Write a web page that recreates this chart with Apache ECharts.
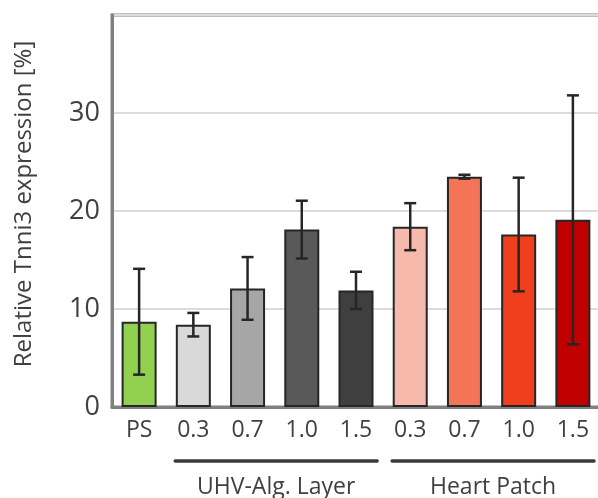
<!DOCTYPE html>
<html>
<head>
<meta charset="utf-8">
<script src="https://cdn.jsdelivr.net/npm/echarts@6/dist/echarts.min.js"></script>
<style>
  html, body { margin: 0; padding: 0; background: #ffffff; }
  #chart { width: 598px; height: 498px; }
</style>
</head>
<body>
<div id="chart"></div>
<script>
// Relative Tnni3 expression per sample (mean and standard deviation, %)
const categories = ['PS', '0.3', '0.7', '1.0', '1.5', '0.3', '0.7', '1.0', '1.5'];
const means      = [8.7, 8.4, 12.1, 18.1, 11.9, 18.4, 23.5, 17.6, 19.1];
const errors     = [5.4, 1.2, 3.2, 2.95, 1.9, 2.4, 0.2, 5.8, 12.7];
const barColors  = ['#92d050', '#d9d9d9', '#a6a6a6', '#595959', '#3f3f3f',
                    '#f8b9ad', '#f37457', '#f03f1c', '#c00000'];
const yTicks     = [0, 10, 20, 30, 40];
// Sample groups below the category axis: [label, first index, last index]
const groups     = [['UHV-Alg. Layer', 1, 4], ['Heart Patch', 5, 8]];

const FONT = '"Open Sans", "DejaVu Sans", sans-serif';
const TEXT = '#404040';

const chart = echarts.init(document.getElementById('chart'), null, { renderer: 'canvas' });

const option = {
  animation: false,
  backgroundColor: '#ffffff',
  grid: {
    left: 112, right: -2, top: 15, bottom: 91,
    outerBoundsMode: 'none',
    show: true, borderColor: '#808080', borderWidth: 3
  },
  xAxis: {
    type: 'category',
    data: categories,
    axisLine: { show: true, lineStyle: { color: '#808080', width: 3 } },
    axisTick: { show: false },
    axisLabel: { color: TEXT, fontFamily: FONT, fontSize: 23, margin: 12 },
    splitLine: { show: false }
  },
  yAxis: {
    type: 'value',
    min: yTicks[0], max: yTicks[yTicks.length - 1], interval: 10,
    name: 'Relative Tnni3 expression [%]',
    nameLocation: 'middle',
    nameGap: 76,
    nameRotate: 90,
    nameTextStyle: { color: TEXT, fontFamily: FONT, fontSize: 24, padding: [0, 0, 0, 14] },
    axisLine: { show: true, lineStyle: { color: '#808080', width: 3 } },
    axisTick: { show: false },
    axisLabel: {
      color: TEXT, fontFamily: FONT, fontSize: 27, margin: 12,
      formatter: v => (v === yTicks[yTicks.length - 1] ? '' : String(v))
    },
    splitLine: { show: true, lineStyle: { color: '#dcdcdc', width: 2 } }
  },
  series: [
    {
      type: 'bar',
      barWidth: 35,
      data: means.map((v, i) => ({
        value: v,
        itemStyle: { color: barColors[i], borderColor: '#262626', borderWidth: 2 }
      })),
      z: 2
    },
    {
      // error bars: vertical whisker with caps at mean ± sd
      type: 'custom',
      data: means.map((v, i) => [i, v - errors[i], v + errors[i]]),
      encode: { x: 0, y: [1, 2] },
      z: 3,
      renderItem: (params, api) => {
        const lo = api.coord([api.value(0), api.value(1)]);
        const hi = api.coord([api.value(0), api.value(2)]);
        const cap = 6;
        const style = { stroke: '#262626', lineWidth: 2.5, fill: null };
        return {
          type: 'group',
          children: [
            { type: 'line', shape: { x1: hi[0], y1: hi[1], x2: lo[0], y2: lo[1] }, style },
            { type: 'line', shape: { x1: hi[0] - cap, y1: hi[1], x2: hi[0] + cap, y2: hi[1] }, style },
            { type: 'line', shape: { x1: lo[0] - cap, y1: lo[1], x2: lo[0] + cap, y2: lo[1] }, style }
          ]
        };
      }
    }
  ]
};

chart.setOption(option);

// Group brackets and their titles, placed from the category axis scale
const zeroY = chart.convertToPixel({ yAxisIndex: 0 }, 0);
const bandW = chart.convertToPixel({ xAxisIndex: 0 }, 1) - chart.convertToPixel({ xAxisIndex: 0 }, 0);
const graphics = [];
groups.forEach(([label, a, b]) => {
  const x1 = chart.convertToPixel({ xAxisIndex: 0 }, a) - bandW / 2 + 9;
  const x2 = chart.convertToPixel({ xAxisIndex: 0 }, b) + bandW / 2 - 6;
  graphics.push({
    type: 'line',
    shape: { x1: x1, y1: zeroY + 54, x2: x2, y2: zeroY + 54 },
    style: { stroke: '#3a3a3a', lineWidth: 3.5, lineCap: 'round' }
  });
  graphics.push({
    type: 'text',
    x: (x1 + x2) / 2,
    y: zeroY + 80,
    style: {
      text: label, fill: TEXT, font: '23px ' + FONT,
      textAlign: 'center', textVerticalAlign: 'middle'
    }
  });
});
chart.setOption({ graphic: graphics });
</script>
</body>
</html>
